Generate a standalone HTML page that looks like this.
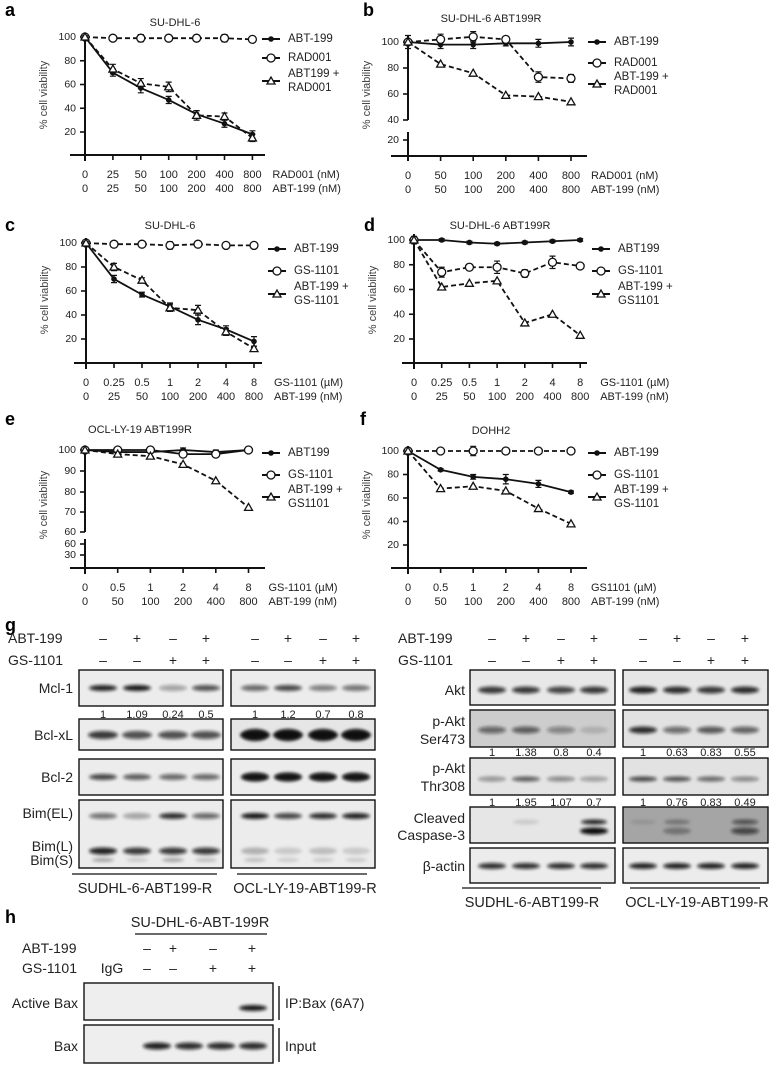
<!DOCTYPE html>
<html><head><meta charset="utf-8">
<style>
html,body{margin:0;padding:0;background:#fff;}
svg{display:block;font-family:"Liberation Sans",Arial,sans-serif;}
</style></head>
<body>
<svg id="fig" width="776" height="1066" viewBox="0 0 776 1066" xmlns="http://www.w3.org/2000/svg">
<defs>
<filter id="blur" x="-30%" y="-100%" width="160%" height="300%"><feGaussianBlur stdDeviation="1.6"/></filter>
</defs>
</svg>
<script>
// ---------- chart data ----------
const aTop=['0','25','50','100','200','400','800'];
const aBot=['0','25','50','100','200','400','800'];
const aAbt=[100,70,57,47,35,27,18];
const aAbtErr=[1,3,4,3,3,3,3];
const aRad=[100,99,99,99,99,99,98];
const aRadErr=[1,1,3,1,2,3,1];
const aCombo=[100,73,61,58,34,33,15];
const aComboErr=[1,4,4,4,4,3,3];

const bTop=['0','50','100','200','400','800'];
const bBot=['0','50','100','200','400','800'];
const bAbt=[100,98,98,99,99,100];
const bAbtErr=[5,3,3,2,3,3];
const bRad=[100,102,104,102,73,72];
const bRadErr=[2,4,4,2,4,3];
const bCombo=[100,83,76,59,58,54];
const bComboErr=[0,0,0,0,0,0];

const cTop=['0','0.25','0.5','1','2','4','8'];
const cBot=['0','25','50','100','200','400','800'];
const cAbt=[100,70,57,47,36,28,18];
const cAbtErr=[1,3,2,3,4,3,4];
const cGs=[100,99,99,98,99,98,98];
const cGsErr=[1,1,2,3,2,2,1];
const cCombo=[100,80,69,46,44,26,12];
const cComboErr=[1,3,2,3,4,3,2];

const dTop=['0','0.25','0.5','1','2','4','8'];
const dBot=['0','25','50','100','200','400','800'];
const dAbt=[100,100,98,97,98,99,100];
const dAbtErr=[1,1,1,1,1,1,1];
const dGs=[100,74,78,78,73,82,79];
const dGsErr=[1,4,1,5,3,5,2];
const dCombo=[100,62,65,67,33,40,23];
const dComboErr=[3,0,0,0,0,0,0];

const eTop=['0','0.5','1','2','4','8'];
const eBot=['0','50','100','200','400','800'];
const eAbt=[100,99,99,100,99,100];
const eAbtErr=[0.5,0.5,0.5,1,1,0.5];
const eGs=[100,100,100,98,98,100];
const eGsErr=[0.5,1,0.5,1,1,1];
const eCombo=[100,98,97,93,85,72];
const eComboErr=[0,1,0,0,0,0];

const fTop=['0','0.5','1','2','4','8'];
const fBot=['0','50','100','200','400','800'];
const fAbt=[100,84,78,76,72,65];
const fAbtErr=[1,1,2,4,3,1];
const fGs=[100,100,100,100,100,100];
const fGsErr=[1,2,4,2,1,1];
const fCombo=[100,68,70,66,51,38];
const fComboErr=[0,0,0,0,0,0];

const NS='http://www.w3.org/2000/svg';
const svg=document.getElementById('fig');
function mk(tag,attrs,parent){const e=document.createElementNS(NS,tag);for(const k in attrs)e.setAttribute(k,attrs[k]);(parent||svg).appendChild(e);return e;}
function txt(s,x,y,size,anchor,parent,weight){const t=mk('text',{x:x,y:y,'font-size':size,'text-anchor':anchor||'start','dominant-baseline':'central',fill:'#222'},parent);if(weight)t.setAttribute('font-weight',weight);t.textContent=s;return t;}

function marker(type,x,y,g){
  let m;
  if(type==='filled'){m=mk('circle',{cx:x,cy:y,r:2.8,fill:'#111'},g);}
  else if(type==='circle'){m=mk('circle',{cx:x,cy:y,r:4,fill:'#fff',stroke:'#111','stroke-width':1.3},g);}
  else {m=mk('polygon',{points:(x)+','+(y-4)+' '+(x-4)+','+(y+3)+' '+(x+4)+','+(y+3),fill:'#fff',stroke:'#111','stroke-width':1.3},g);}
  return m;
}

function drawChart(o){
  const g=mk('g',{});
  
  
  const X=i=>o.x0+i*o.dx;
  const Y=o.y;
  // title
  const t=txt(o.title,o.titleX,o.titleY,11,'middle',g);
  
  
  // y axis
  o.ySegs.forEach(s=>{
    const l=mk('line',{x1:o.x0,x2:o.x0,y1:s[0],y2:s[1],stroke:'#111','stroke-width':2},g);
    
    
  });
  o.yTicks.forEach((v,i)=>{
    const yy=o.yTickPos?o.yTickPos[i]:Y(v);
    mk('line',{x1:o.x0-5,x2:o.x0,y1:yy,y2:yy,stroke:'#111','stroke-width':1.6},g);
    const tl=txt(String(v),o.x0-9,yy,10.5,'end',g);
    
    
  });
  const yt=txt('% cell viability',0,0,11,'middle',g);
  yt.setAttribute('transform','translate('+(o.x0-41)+','+o.yTitleY+') rotate(-90)');
  yt.setAttribute('fill','#444');
  
  
  // x axis
  const xa=mk('line',{x1:o.axL,x2:o.axR,y1:o.axY,y2:o.axY,stroke:'#111','stroke-width':2},g);
  
  
  o.top.forEach((s,i)=>{
    mk('line',{x1:X(i),x2:X(i),y1:o.axY,y2:o.axY+5,stroke:'#111','stroke-width':1.6},g);
    const a=txt(s,X(i),o.axY+20,11,'middle',g);
    
    
    const b=txt(o.bot[i],X(i),o.axY+34,11,'middle',g);
    
    
  });
  const u1=txt(o.unitTop,o.x0+o.dx*(o.top.length-1)+20,o.axY+20,11,'start',g);
  
  
  const u2=txt(o.unitBot,o.x0+o.dx*(o.top.length-1)+20,o.axY+34,11,'start',g);
  
  
  // series
  o.series.forEach(s=>{
    const sg=mk('g',{},g);
    
    
    const pts=s.vals.map((v,i)=>X(i)+','+Y(v)).join(' ');
    const pl=mk('polyline',{points:pts,fill:'none',stroke:'#111','stroke-width':1.8},sg);
    if(s.dash)pl.setAttribute('stroke-dasharray','5,3');
    
    
    s.vals.forEach((v,i)=>{
      const e=s.err[i];
      if(e>0.9){
        const eb=mk('path',{d:'M'+X(i)+','+Y(v+e)+'V'+Y(v-e)+'M'+(X(i)-3)+','+Y(v+e)+'h6M'+(X(i)-3)+','+Y(v-e)+'h6',stroke:'#111','stroke-width':1.2,fill:'none'},sg);
        
        
      }
      const m=marker(s.marker,X(i),Y(v),sg);
      
      
    });
  });
  // legend
  o.legend.forEach((L,i)=>{
    const lg=mk('g',{},g);
    
    
    const ly=o.legY[i];
    mk('line',{x1:o.legX,x2:o.legX+18,y1:ly,y2:ly,stroke:'#111','stroke-width':2},lg);
    marker(L.marker,o.legX+9,ly,lg);
    L.text.forEach((s,j)=>{txt(s,o.legX+26,ly+(L.text.length>1?(j-0.5)*14:0),11.5,'start',lg);});
  });
}

// panel letters
[['a',5,10],['b',363,10],['c',5,225],['d',364,225],['e',5,419],['f',360,419],['g',5,625],['h',5,917]].forEach(p=>{
  const t=txt(p[0],p[1],p[2],18,'start',svg,'bold');
  t.setAttribute('fill','#000');
  
  
});

const legR=[{marker:'filled',text:['ABT-199']},{marker:'circle',text:['RAD001']},{marker:'tri',text:['ABT199 +','RAD001']}];
drawChart({name:'chart-a',title:'SU-DHL-6',titleX:175,titleY:23,x0:85,dx:27.9,y:v=>155.75-v*1.1875,
  ySegs:[[33,161]],yTicks:[20,40,60,80,100],yTitleY:95,axL:70,axR:265,axY:155,top:aTop,bot:aBot,
  unitTop:'RAD001 (nM)',unitBot:'ABT-199 (nM)',
  series:[{key:'abt199',vals:aAbt,err:aAbtErr,marker:'filled',dash:false},{key:'rad001',vals:aRad,err:aRadErr,marker:'circle',dash:true},{key:'combo',vals:aCombo,err:aComboErr,marker:'tri',dash:true}],
  legend:legR,legX:262,legY:[39,58,81]});

drawChart({name:'chart-b',title:'SU-DHL-6 ABT199R',titleX:491,titleY:19,x0:408,dx:32.6,y:v=>v>=35?42+(100-v)*1.3:140+(20-v)*1.3,
  ySegs:[[36,120],[132,161]],yTicks:[20,40,60,80,100],yTitleY:95,axL:391,axR:587,axY:156,top:bTop,bot:bBot,
  unitTop:'RAD001 (nM)',unitBot:'ABT-199 (nM)',
  series:[{key:'abt199',vals:bAbt,err:bAbtErr,marker:'filled',dash:false},{key:'rad001',vals:bRad,err:bRadErr,marker:'circle',dash:true},{key:'combo',vals:bCombo,err:bComboErr,marker:'tri',dash:true}],
  legend:[{marker:'filled',text:['ABT-199']},{marker:'circle',text:['RAD001']},{marker:'tri',text:['ABT-199 +','RAD001']}],legX:588,legY:[42,63,84]});

drawChart({name:'chart-c',title:'SU-DHL-6',titleX:170,titleY:226,x0:86,dx:28,y:v=>243+(100-v)*1.2,
  ySegs:[[238,369]],yTicks:[20,40,60,80,100],yTitleY:300,axL:74,axR:262,axY:363,top:cTop,bot:cBot,
  unitTop:'GS-1101 (\u00b5M)',unitBot:'ABT-199 (nM)',
  series:[{key:'abt199',vals:cAbt,err:cAbtErr,marker:'filled',dash:false},{key:'gs1101',vals:cGs,err:cGsErr,marker:'circle',dash:true},{key:'combo',vals:cCombo,err:cComboErr,marker:'tri',dash:true}],
  legend:[{marker:'filled',text:['ABT-199']},{marker:'circle',text:['GS-1101']},{marker:'tri',text:['ABT-199 +','GS-1101']}],legX:268,legY:[249,271,294]});

drawChart({name:'chart-d',title:'SU-DHL-6 ABT199R',titleX:500,titleY:226,x0:414,dx:27.7,y:v=>240+(100-v)*1.2375,
  ySegs:[[234,369]],yTicks:[20,40,60,80,100],yTitleY:300,axL:402,axR:587,axY:363,top:dTop,bot:dBot,
  unitTop:'GS-1101 (\u00b5M)',unitBot:'ABT-199 (nM)',
  series:[{key:'abt199',vals:dAbt,err:dAbtErr,marker:'filled',dash:false},{key:'gs1101',vals:dGs,err:dGsErr,marker:'circle',dash:true},{key:'combo',vals:dCombo,err:dComboErr,marker:'tri',dash:true}],
  legend:[{marker:'filled',text:['ABT199']},{marker:'circle',text:['GS-1101']},{marker:'tri',text:['ABT-199 +','GS1101']}],legX:592,legY:[249,271,294]});

drawChart({name:'chart-e',title:'OCL-LY-19 ABT199R',titleX:140,titleY:430,x0:85,dx:32.7,y:v=>450+(100-v)*2.05,
  ySegs:[[446,532],[539,574]],yTicks:[100,90,80,70,60,60,30],yTickPos:[450,471,492,512,532,544,555],yTitleY:505,axL:70,axR:265,axY:568,top:eTop,bot:eBot,
  unitTop:'GS-1101 (\u00b5M)',unitBot:'ABT-199 (nM)',
  series:[{key:'abt199',vals:eAbt,err:eAbtErr,marker:'filled',dash:false},{key:'gs1101',vals:eGs,err:eGsErr,marker:'circle',dash:false},{key:'combo',vals:eCombo,err:eComboErr,marker:'tri',dash:true}],
  legend:[{marker:'filled',text:['ABT199']},{marker:'circle',text:['GS-1101']},{marker:'tri',text:['ABT-199 +','GS1101']}],legX:262,legY:[453,475,497]});

drawChart({name:'chart-f',title:'DOHH2',titleX:491,titleY:431,x0:408,dx:32.6,y:v=>451+(100-v)*1.175,
  ySegs:[[446,574]],yTicks:[20,40,60,80,100],yTitleY:505,axL:391,axR:587,axY:568,top:fTop,bot:fBot,
  unitTop:'GS1101 (\u00b5M)',unitBot:'ABT-199 (nM)',
  series:[{key:'abt199',vals:fAbt,err:fAbtErr,marker:'filled',dash:false},{key:'gs1101',vals:fGs,err:fGsErr,marker:'circle',dash:true},{key:'combo',vals:fCombo,err:fComboErr,marker:'tri',dash:true}],
  legend:[{marker:'filled',text:['ABT-199']},{marker:'circle',text:['GS-1101']},{marker:'tri',text:['ABT-199 +','GS-1101']}],legX:588,legY:[453,475,497]});

// ---------- blots ----------
function band(x,y,w,h,op,g){
  if(op<=0)return;
  const b=mk('ellipse',{cx:x,cy:y,rx:w/2,ry:h/2,fill:'#111','fill-opacity':op,filter:'url(#blur)'},g);
  
  
}
function blotBox(x1,x2,y1,y2,bg,name){
  const g=mk('g',{});
  
  
  mk('rect',{x:x1,y:y1,width:x2-x1,height:y2-y1,fill:bg,stroke:'none'},g);
  return g;
}
function boxBorder(x1,x2,y1,y2,g){mk('rect',{x:x1,y:y1,width:x2-x1,height:y2-y1,fill:'none',stroke:'#111','stroke-width':1.4},g);}
function row(boxL,boxR,lanes,y1,y2,bgs,bands,name){
  [0,1].forEach(k=>{
    const b=k?boxR:boxL;
    const g=blotBox(b[0],b[1],y1,y2,bgs[k],name+(k?'-right':'-left'));
    bands.forEach(bd=>{bd.ops[k].forEach((op,i)=>band(lanes[k][i],bd.y,bd.w,bd.h,op,g));});
    boxBorder(b[0],b[1],y1,y2,g);
  });
}
function signs(xs,vals,y,size){vals.forEach((v,i)=>{const t=txt(v?'+':'\u2013',xs[i],y,size||14,'middle');});}
function label(s,x,y,size,anchor){const t=txt(s,x,y,size||14,anchor||'end');return t;}
function nums(arr,xs,y){arr.forEach((s,i)=>{const t=txt(s,xs[i],y,11,'middle');});}

// left g
const gL=[[103,137,173,206],[255,288,323,356]];
const gLx=[[79,223],[231,375]];
label('ABT-199',8,638,14,'start');label('GS-1101',8,660,14,'start');
signs(gL[0].concat(gL[1]),[0,1,0,1,0,1,0,1],638);
signs(gL[0].concat(gL[1]),[0,0,1,1,0,0,1,1],660);
row(gLx[0],gLx[1],gL,670,706,['#ececec','#ececec'],[{y:688,w:28,h:6,ops:[[0.9,0.95,0.35,0.7],[0.6,0.75,0.5,0.55]]}],'blot-mcl1');
label('Mcl-1',73,688);nums(['1','1.09','0.24','0.5','1','1.2','0.7','0.8'],gL[0].concat(gL[1]),715);
row(gLx[0],gLx[1],gL,719,750,['#ececec','#e6e6e6'],[{y:735,w:30,h:8,ops:[[0.8,0.7,0.7,0.7],[1,1,1,1]]},{y:735,w:26,h:12,ops:[[0,0,0,0],[0.9,0.9,0.9,0.9]]}],'blot-bclxl');
label('Bcl-xL',73,735);
row(gLx[0],gLx[1],gL,759,795,['#ececec','#ececec'],[{y:777,w:28,h:6,ops:[[0.75,0.65,0.6,0.6],[0.95,0.95,0.95,0.95]]},{y:777,w:26,h:9,ops:[[0,0,0,0],[0.8,0.8,0.8,0.8]]}],'blot-bcl2');
label('Bcl-2',73,777);
row(gLx[0],gLx[1],gL,800,868,['#ececec','#ececec'],[{y:816,w:28,h:6,ops:[[0.55,0.35,0.85,0.6],[0.95,0.75,0.85,0.9]]},{y:851,w:28,h:7,ops:[[0.9,0.8,0.8,0.8],[0.25,0.15,0.2,0.15]]},{y:860,w:22,h:4,ops:[[0.3,0.15,0.3,0.2],[0.2,0.15,0.15,0.15]]}],'blot-bim');
label('Bim(EL)',73,813);label('Bim(L)',73,846);label('Bim(S)',73,860);
mk('line',{x1:72,x2:217,y1:874,y2:874,stroke:'#111','stroke-width':1.2});
mk('line',{x1:237,x2:367,y1:874,y2:874,stroke:'#111','stroke-width':1.2});
label('SUDHL-6-ABT199-R',145,889,14.5,'middle');label('OCL-LY-19-ABT199-R',305,889,14.5,'middle');

// right g
const gR=[[492,526,561,594],[643,677,711,745]];
const gRx=[[470,615],[623,768]];
label('ABT-199',398,638,14,'start');label('GS-1101',398,660,14,'start');
signs(gR[0].concat(gR[1]),[0,1,0,1,0,1,0,1],638);
signs(gR[0].concat(gR[1]),[0,0,1,1,0,0,1,1],660);
row(gRx[0],gRx[1],gR,670,705,['#e8e8e8','#e6e6e6'],[{y:690,w:28,h:7,ops:[[0.8,0.8,0.75,0.8],[0.9,0.85,0.8,0.85]]}],'blot-akt');
label('Akt',465,690);
row(gRx[0],gRx[1],gR,710,747,['#cdcdcd','#e2e2e2'],[{y:730,w:28,h:7,ops:[[0.55,0.6,0.4,0.15],[0.85,0.55,0.65,0.6]]}],'blot-pakt-ser473');
label('p-Akt',465,721);label('Ser473',465,739);
nums(['1','1.38','0.8','0.4','1','0.63','0.83','0.55'],gR[0].concat(gR[1]),753);
row(gRx[0],gRx[1],gR,758,795,['#e4e4e4','#e2e2e2'],[{y:779,w:28,h:5,ops:[[0.4,0.65,0.45,0.35],[0.75,0.7,0.6,0.45]]}],'blot-pakt-thr308');
label('p-Akt',465,768);label('Thr308',465,786);
nums(['1','1.95','1.07','0.7','1','0.76','0.83','0.49'],gR[0].concat(gR[1]),803);
row(gRx[0],gRx[1],gR,807,843,['#e6e6e6','#a5a5a5'],[{y:822,w:26,h:5,ops:[[0,0.12,0,0.9],[0.1,0.3,0,0.6]]},{y:831,w:28,h:7,ops:[[0,0,0,1],[0,0.3,0,0.65]]}],'blot-cleaved-caspase3');
label('Cleaved',465,818);label('Caspase-3',465,835);
row(gRx[0],gRx[1],gR,848,883,['#ececec','#ececec'],[{y:866,w:28,h:6,ops:[[0.85,0.85,0.85,0.85],[0.9,0.9,0.9,0.9]]}],'blot-beta-actin');
label('\u03b2-actin',465,866);
mk('line',{x1:462,x2:601,y1:888,y2:888,stroke:'#111','stroke-width':1.2});
mk('line',{x1:630,x2:760,y1:888,y2:888,stroke:'#111','stroke-width':1.2});
label('SUDHL-6-ABT199-R',532,903,14.5,'middle');label('OCL-LY-19-ABT199-R',697,903,14.5,'middle');

// h
label('SU-DHL-6-ABT-199R',200,923,14.5,'middle');
mk('line',{x1:135,x2:267,y1:934,y2:934,stroke:'#111','stroke-width':1.2});
label('ABT-199',22,948,14,'start');label('GS-1101',22,968,14,'start');label('IgG',112,968,14,'middle');
const hL=[147,173,213,252];
signs(hL,[0,1,0,1],948);signs(hL,[0,0,1,1],968);
const hB=[157,189,221,253];
const h1=blotBox(84,273,983,1020,'#eeeeee','blot-active-bax');
[0,0,0,0.95].forEach((op,i)=>band(hB[i],1008,28,6,op,h1));boxBorder(84,273,983,1020,h1);
const h2=blotBox(84,273,1025,1063,'#eeeeee','blot-input-bax');
[0.9,0.85,0.85,0.85].forEach((op,i)=>band(hB[i],1046,28,7,op,h2));boxBorder(84,273,1025,1063,h2);
label('Active  Bax',78,1003);label('Bax',78,1046);
mk('line',{x1:279,x2:279,y1:986,y2:1020,stroke:'#111','stroke-width':1.4});
mk('line',{x1:279,x2:279,y1:1028,y2:1062,stroke:'#111','stroke-width':1.4});
label('IP:Bax (6A7)',285,1003,14,'start');label('Input',285,1046,14,'start');
</script>
</body></html>
